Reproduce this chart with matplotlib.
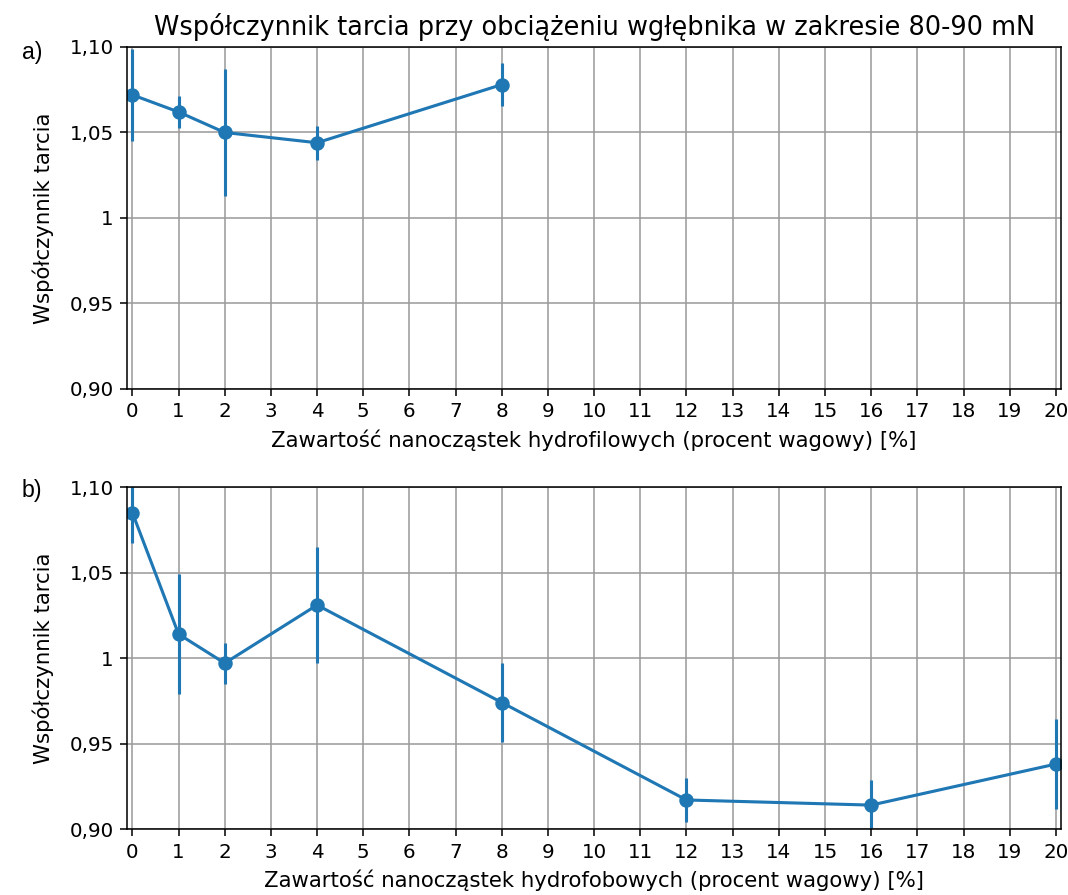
import matplotlib
matplotlib.use("Agg")
import matplotlib.pyplot as plt

# mass fraction of nanoparticles [%]
hydrophilic_x = [0, 1, 2, 4, 8]
hydrophilic_mean = [1.072, 1.062, 1.050, 1.044, 1.078]
hydrophilic_err = [0.027, 0.0095, 0.037, 0.010, 0.0125]

hydrophobic_x = [0, 1, 2, 4, 8, 12, 16, 20]
hydrophobic_mean = [1.085, 1.014, 0.997, 1.031, 0.974, 0.917, 0.914, 0.938]
hydrophobic_err = [0.018, 0.035, 0.012, 0.034, 0.023, 0.013, 0.0145, 0.0265]

y_ticks = [0.90, 0.95, 1.00, 1.05, 1.10]
y_tick_labels = ["0,90", "0,95", "1", "1,05", "1,10"]
x_ticks = list(range(0, 21))

DPI = 139
fig = plt.figure(figsize=(1068 / DPI, 895 / DPI), dpi=DPI)
ax_a = fig.add_axes([0.1192, 0.5654, 0.8742, 0.3821])
ax_b = fig.add_axes([0.1192, 0.0737, 0.8742, 0.3821])

panels = [
    (ax_a, hydrophilic_x, hydrophilic_mean, hydrophilic_err,
     "Zawartość nanocząstek hydrofilowych (procent wagowy) [%]"),
    (ax_b, hydrophobic_x, hydrophobic_mean, hydrophobic_err,
     "Zawartość nanocząstek hydrofobowych (procent wagowy) [%]"),
]

for ax, x, mean, err, xlabel in panels:
    ax.errorbar(x, mean, yerr=err, fmt="-o", color="tab:blue",
                linewidth=1.6, elinewidth=1.6, markersize=6.5)
    ax.set_xlim(-0.11, 20.11)
    ax.set_ylim(0.90, 1.10)
    ax.set_xticks(x_ticks)
    ax.set_yticks(y_ticks)
    ax.set_yticklabels(y_tick_labels)
    ax.tick_params(labelsize=10.3)
    ax.grid(True, color="#9a9a9a", linewidth=0.8)
    ax.set_xlabel(xlabel, fontsize=11)
    ax.set_ylabel("Współczynnik tarcia", fontsize=11, labelpad=8)

ax_a.set_title("Współczynnik tarcia przy obciążeniu wgłębnika w zakresie 80-90 mN",
               fontsize=13.3)

fig.text(22 / 1068, 1 - 52 / 895, "a)", family="Liberation Sans",
         fontsize=12, va="center")
fig.text(22 / 1068, 1 - 490 / 895, "b)", family="Liberation Sans",
         fontsize=12, va="center")

fig.savefig("out.png", dpi=DPI)
